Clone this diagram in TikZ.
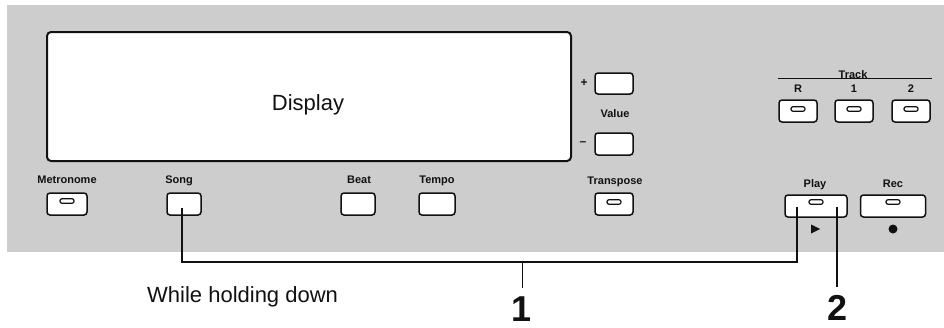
\documentclass[tikz,border=0pt]{standalone}
\usepackage{fontspec}
\setmainfont{Liberation Sans}
\usetikzlibrary{positioning, calc}
\definecolor{ink}{HTML}{111111}
\definecolor{panel}{HTML}{CDCDCD}

\begin{document}
\begin{tikzpicture}[x=1pt, y=-1pt, ink, font=\bfseries\fontsize{11}{11}\selectfont,
  key/.style={draw=ink, line width=1.5pt, fill=white, rounded corners=3pt, inner sep=0pt,
              minimum height=22pt},
  led/.style={draw=ink, line width=1.2pt, fill=white, rounded corners=2pt, inner sep=0pt,
              minimum width=14pt, minimum height=4.5pt},
  tag/.style={anchor=base, inner sep=0pt},
  wire/.style={draw=ink, line width=1.5pt},
  big/.style={anchor=base, inner sep=0pt, font=\bfseries\fontsize{36}{36}\selectfont}]
  \useasboundingbox (0,0) rectangle (944,327);

  % Panel and display
  \fill[panel] (7,5) rectangle (944,252);
  \node[draw=ink, line width=2pt, fill=white, rounded corners=4pt, inner sep=0pt,
        minimum width=524pt, minimum height=129pt] (display) at (309,96.5) {};
  \node[tag, font=\fontsize{22}{22}\selectfont] (displaytext) at (308,110) {Display};

  % Value keys
  \node[key, minimum width=38pt, minimum height=21pt] (valueup) at (614,83.5) {};
  \node[key, minimum width=38pt] (valuedown) at (614,144) {};
  \node[tag] (valuetag) at (615,117) {Value};
  \node[font=\bfseries\fontsize{12}{12}\selectfont, inner sep=0pt] (plus) at (584,83) {+};
  \node[font=\bfseries\fontsize{12}{12}\selectfont, inner sep=0pt] (minus) at (583,144) {--};

  % Front row keys
  \node[key, minimum width=40pt] (metro) at (67,204) {};      \node[led] (metroled) at ($(metro.center)+(0,-3)$) {};
  \node[key, minimum width=34pt] (song) at (184,204) {};
  \node[key, minimum width=34pt] (beat) at (358,204) {};
  \node[key, minimum width=36pt] (tempo) at (437,204) {};
  \node[key, minimum width=38pt] (transpose) at (614,204) {}; \node[led] (transled) at ($(transpose.center)+(0,-2)$) {};
  \node[tag] (metrotag) at (67,183) {Metronome};
  \node[tag] (songtag) at (179,183) {Song};
  \node[tag] (beattag) at (359,183) {Beat};
  \node[tag] (tempotag) at (437,183) {Tempo};
  \node[tag] (transtag) at (615,184) {Transpose};

  % Track keys
  \draw[line width=0.8pt] (778,78) -- (932,78);
  \node[tag] (tracktag) at (853,78) {Track};
  \foreach \name/\txt/\x in {trackr/R/798, trackone/1/854, tracktwo/2/911}{
    \node[key, minimum width=38pt] (\name) at (\x,111) {};
    \node[led] at ($(\name.center)+(0,-2)$) {};
    \node[tag] at (\x,92) {\txt};
  }

  % Play and Rec
  \node[key, minimum width=62pt] (play) at (816,206) {};  \node[led] (playled) at ($(play.center)+(0,-4)$) {};
  \node[key, minimum width=65pt] (rec) at (893,206) {};   \node[led] (recled) at ($(rec.center)+(0,-4)$) {};
  \node[tag] (playtag) at (815,187) {Play};
  \node[tag] (rectag) at (893,187) {Rec};
  \fill (811,224.5) -- (820,229) -- (811,233.5) -- cycle;
  \fill (893,229) circle (4.5);

  % Callouts
  \coordinate (songpin) at (182,208);
  \coordinate (playpin) at (797,207);
  \coordinate (busleft) at (182,262);
  \draw[wire] (songpin) -- (busleft) -| (playpin);
  \coordinate (tickone) at (522,262);
  \coordinate (tickoneend) at (522,288);
  \draw[line width=0.9pt] (tickone) -- (tickoneend);
  \coordinate (playpush) at (837,207);
  \coordinate (playpushend) at (837,287);
  \draw[line width=1.2pt] (playpush) -- (playpushend);
  \node[tag, font=\fontsize{22}{22}\selectfont, anchor=base west] (holdtag) at (147,302) {While holding down};
  \node[big] (numone) at (522,321) {1};
  \node[big] (numtwo) at (837,320) {2};
\end{tikzpicture}
\end{document}
